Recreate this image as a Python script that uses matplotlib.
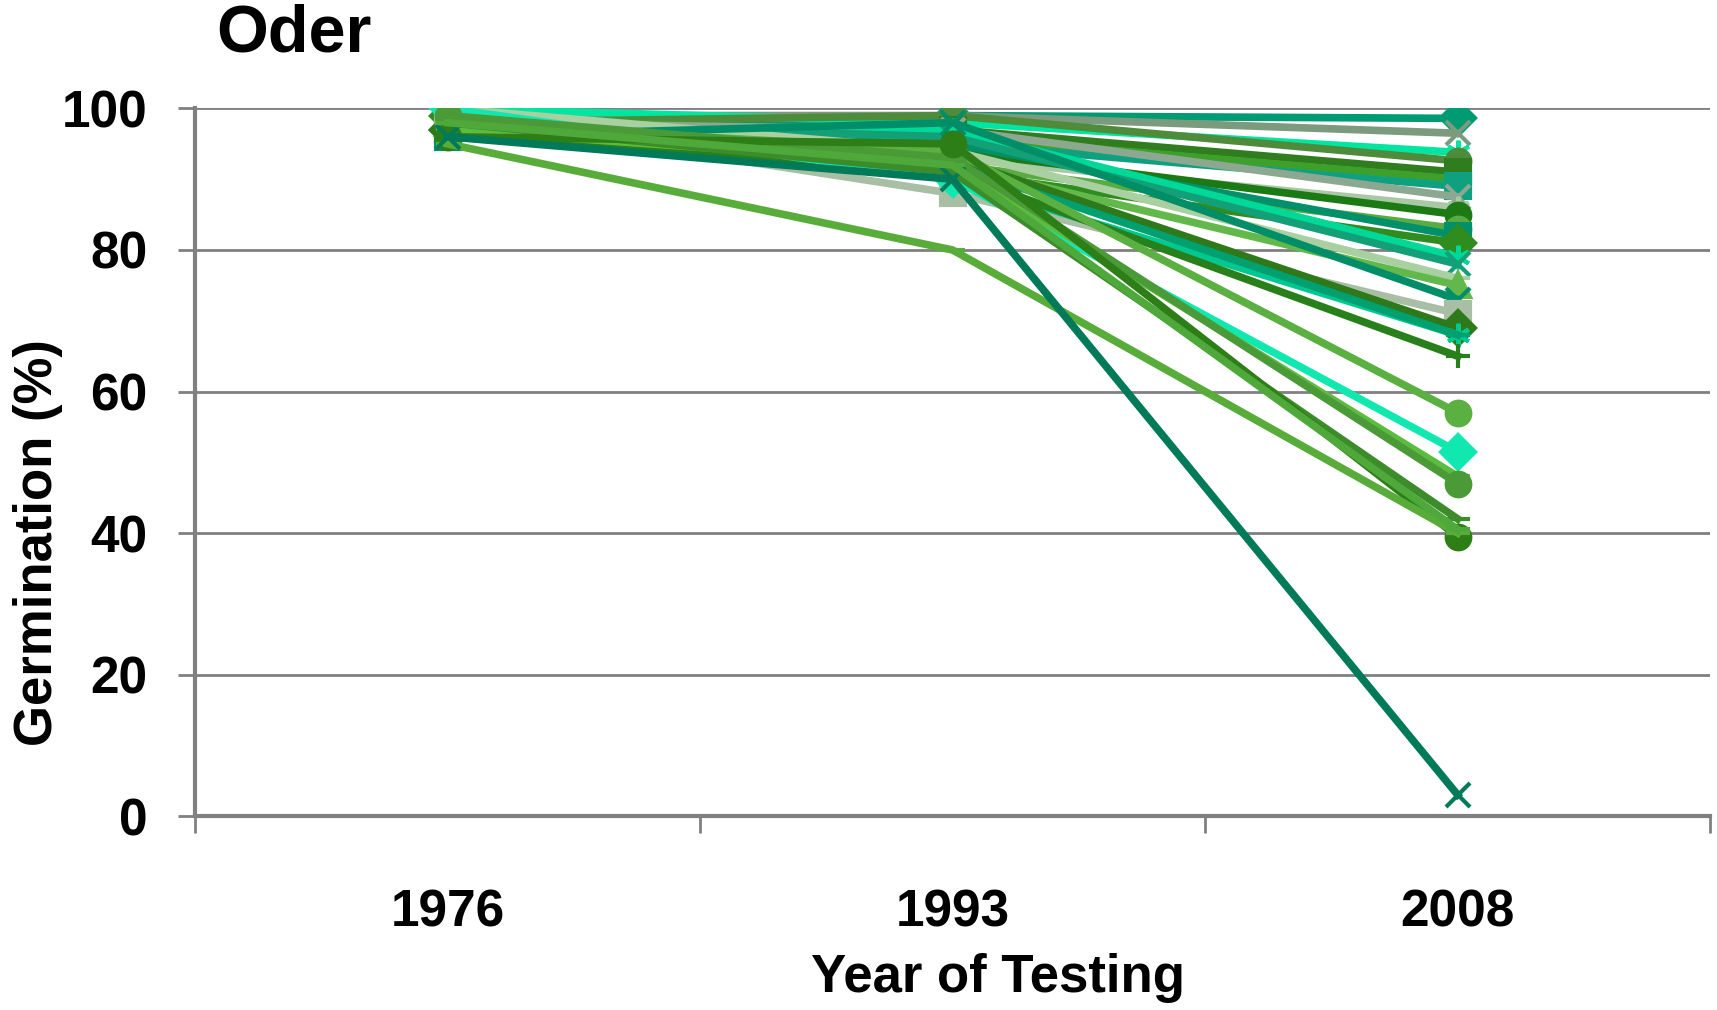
import numpy as np
import matplotlib
matplotlib.use('Agg')
import matplotlib.pyplot as plt

plt.rcParams['font.family'] = ['Liberation Sans', 'DejaVu Sans']
plt.rcParams['font.weight'] = 'bold'

# datos (germinacion % por lote)
years = ['1976', '1993', '2008']
g1976 = [97, 99, 100, 98, 98, 99, 97, 98, 99, 97, 98, 96, 99, 97, 98, 100,
         98, 96, 99, 97, 98, 96, 97, 98, 100, 97, 99, 98, 96, 95, 96, 98]
g1993 = [99, 99, 98, 99, 97, 96, 95, 97, 93, 94, 92, 95, 91, 97, 96, 94,
         92, 98, 88, 93, 90, 92, 91, 94, 90, 92, 93, 91, 95, 80, 90, 92]
g2008 = [98.6, 96.5, 93.8, 92.6, 91, 90, 89, 87.5, 86, 85, 83, 82, 81, 79, 78, 76,
         75, 73, 71, 69, 68, 68, 65, 57, 51.5, 48, 47, 42, 39.5, 40, 3, 40.5]
colores = ['#009B72', '#7C9A7E', '#00E6A0', '#4E8C3C', '#2F7D1E', '#3DA02A',
           '#0FA080', '#8DA890', '#A9C8A4', '#1C7A15', '#58AC42', '#00906A',
           '#2F8C1F', '#00D898', '#13A077', '#A9D0A0', '#62B84A', '#008E68',
           '#A8BFA6', '#2E7A1A', '#00C890', '#00A070', '#28801A', '#5AB040',
           '#10E8B0', '#5CBC40', '#4A9A38', '#3C8C2C', '#2E7E18', '#58AC3A',
           '#007A58', '#4FA83A']
marcadores = ['D', 'x', (6, 2, 0), 'o', 's', '_', 's', 'x', (6, 2, 0), 'o', 'o', 's',
              'D', (6, 2, 0), 'x', '_', '^', 'x', 's', 'D', (6, 2, 0), '_', '+', 'o',
              'D', '_', 'o', '_', 'o', '_', 'x', '_']

fig = plt.figure(figsize=(17.17, 10.10), dpi=100)
ax = fig.add_axes([0.1136, 0.192, 0.8824, 0.7006])

x = np.arange(len(years))
for i in range(len(g2008)):
    ax.plot(x, [g1976[i], g1993[i], g2008[i]], c=colores[i], lw=5.5,
            marker=marcadores[i], ms=17, mew=3, zorder=3)

ax.set_xlim(-0.5, 2.5)
ax.set_ylim(0, 100)
ax.set_yticks([0, 20, 40, 60, 80, 100])
ax.set_xticks(x)
ax.set_xticklabels(years)
ax.set_xticks([-0.5, 0.5, 1.5, 2.5], minor=True)
ax.tick_params(axis='x', which='major', length=0, pad=52, labelsize=37)
ax.tick_params(axis='x', which='minor', length=12, width=2, color='#808080', direction='out')
ax.tick_params(axis='y', length=12, width=2, color='#808080', pad=22, labelsize=37)
ax.grid(axis='y', color='#808080', lw=2, zorder=0)
ax.spines['top'].set_visible(False)
ax.spines['right'].set_visible(False)
ax.spines['left'].set_color('#808080')
ax.spines['bottom'].set_color('#808080')
ax.spines['left'].set_linewidth(3)
ax.spines['bottom'].set_linewidth(3)
ax.set_axisbelow(True)

fig.text(0.126, 0.966, 'Oder', fontsize=48, fontweight='bold', ha='left', va='center')
fig.text(0.581, 0.032, 'Year of Testing', fontsize=38, fontweight='bold', ha='center', va='center')
fig.text(0.022, 0.463, 'Germination (%)', fontsize=38, fontweight='bold', ha='center', va='center',
         rotation=90)

fig.savefig('out.png', dpi=100)
